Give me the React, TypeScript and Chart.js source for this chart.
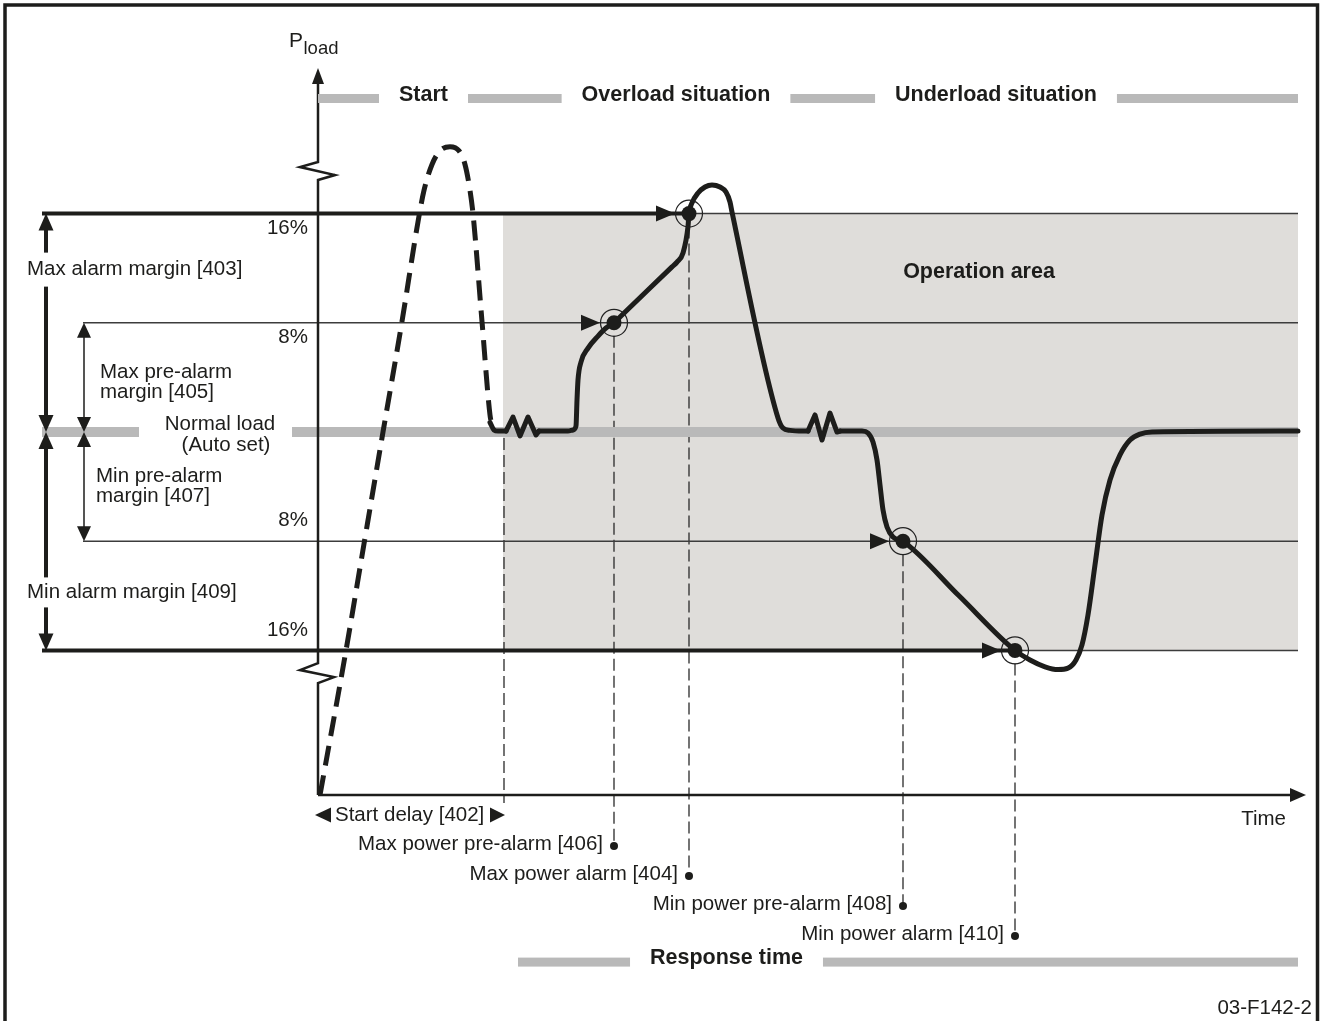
import { useEffect, useRef } from "react";
import { Chart, registerables } from "chart.js";

Chart.register(...registerables);

// ---------------- Values ----------------
// Time axis: arbitrary time units from start (0).  Load axis: % deviation from normal load (0).
const thresholdLevels = [16, 8, -8, -16];
const thresholdLabels = ["16%", "8%", "8%", "16%"];

// Start-up (dashed) curve
const startCurveT = [0.2, 2.8, 4.6, 6.5, 8.4, 10.0, 10.6, 11.4, 12.2, 13.2, 14.1, 14.7, 15.2, 15.5, 16.4, 17.2, 17.4];
const startCurveV = [-26.6, -16.0, -8.2, 0, 8.1, 15.4, 17.7, 19.6, 20.6, 20.9, 20.6, 19.6, 17.7, 16.0, 8.1, 1.25, 0.5];

// Load curve, split into smooth parts and ripple (zig-zag) parts
const settleT = [17.2, 17.6, 18.0, 18.8];
const settleV = [0.7, 0.15, 0.07, 0.07];
const ripple1T = [18.8, 19.5, 20.2, 21.0, 21.8, 22.1];
const ripple1V = [0.07, 1.1, -0.29, 1.1, -0.22, 0.07];
const overloadT = [22.1, 25.0, 25.5, 25.8, 25.9, 26.0, 26.3, 27.0, 28.0, 28.8, 29.6, 30.3, 33.2, 35.4, 35.9, 36.5, 37.0, 37.1, 37.4, 38.0, 38.7, 39.4, 40.2, 40.8, 41.2, 41.4, 46.0, 46.5, 47.2, 48.5, 49.0];
const overloadV = [0.07, 0.07, 0.15, 0.44, 2.34, 3.81, 5.13, 6.15, 7.03, 7.62, 8.0, 8.5, 10.55, 12.1, 12.45, 13.11, 15.05, 16.0, 16.78, 17.51, 17.95, 18.1, 17.95, 17.58, 16.85, 16.12, 1.03, 0.29, 0.12, 0.07, 0.07];
const ripple2T = [49.0, 49.7, 50.4, 51.2, 51.9, 52.2];
const ripple2V = [0.07, 1.25, -0.59, 1.39, 0, 0.07];
const underloadT = [52.2, 54.4, 55.0, 55.5, 55.9, 56.2, 56.5, 56.9, 57.5, 58.5, 64.1, 69.7, 71.2, 72.7, 74.0, 75.0, 75.8, 76.4, 77.0, 77.7, 78.4, 79.2, 80.2, 81.2, 82.2, 83.4, 98.0];
const underloadV = [0.07, 0.07, -0.07, -0.73, -2.05, -3.88, -5.71, -6.96, -7.69, -8.0, -12.0, -16.0, -16.7, -17.2, -17.4, -17.3, -16.7, -15.6, -13.4, -9.74, -6.08, -3.52, -1.68, -0.59, -0.15, 0, 0.07];

// Alarm events
const alarmT = [29.6, 37.1, 58.5, 69.7];
const alarmV = [8, 16, -8, -16];
const alarmLabels = ["Max power pre-alarm [406]", "Max power alarm [404]", "Min power pre-alarm [408]", "Min power alarm [410]"];

const startDelayEndT = 18.6;
const headerLabels = ["Start", "Overload situation", "Underload situation"];
const headerCenterT = [10.55, 35.8, 67.8];
const responseLabel = "Response time";
const responseCenterT = 40.85;
const responseStartT = 20.0;

// ---------------- Scale extents ----------------
const T_MIN = -31.8, T_MAX = 100.3;
const V_MIN = -43.15, V_MAX = 31.65;
const AXIS_V = -26.6;        // level of the time axis
const AXIS_TOP_V = 26.67;    // tip of the load axis arrow
const UPPER_BREAK_V = 19.12;
const LOWER_BREAK_V = -17.66;
const AXIS_END_T = 98.8;
const PLOT_END_T = 98.0;
const OUTER_MARGIN_T = -27.2;
const INNER_MARGIN_T = -23.4;
const LINE_START_OUTER_T = -27.6;
const LINE_START_INNER_T = -23.5;
const BAND_GAP_T = [-17.9, -2.6];

// ---------------- Styles ----------------
const INK = "#1d1d1b";
const SHADE = "#dfddda";
const BAND = "#b9b9b9";
const FAMILY = '"Liberation Sans", Arial, sans-serif';
const REG = `20.5px ${FAMILY}`;
const BOLD = `bold 21.5px ${FAMILY}`;

const pts = (ts: number[], vs: number[]) => ts.map((t, i) => ({ x: t, y: vs[i] }));

function tri(ctx: CanvasRenderingContext2D, tx: number, ty: number, dir: string, len: number, half: number) {
  ctx.beginPath();
  ctx.moveTo(tx, ty);
  if (dir === "up") { ctx.lineTo(tx - half, ty + len); ctx.lineTo(tx + half, ty + len); }
  else if (dir === "down") { ctx.lineTo(tx - half, ty - len); ctx.lineTo(tx + half, ty - len); }
  else if (dir === "left") { ctx.lineTo(tx + len, ty - half); ctx.lineTo(tx + len, ty + half); }
  else { ctx.lineTo(tx - len, ty - half); ctx.lineTo(tx - len, ty + half); }
  ctx.closePath();
  ctx.fill();
}
function seg(ctx: CanvasRenderingContext2D, x1: number, y1: number, x2: number, y2: number) {
  ctx.beginPath();
  ctx.moveTo(x1, y1);
  ctx.lineTo(x2, y2);
  ctx.stroke();
}
function label(ctx: CanvasRenderingContext2D, s: string, x: number, y: number, align: CanvasTextAlign = "left", font = REG) {
  ctx.font = font;
  ctx.textAlign = align;
  ctx.textBaseline = "middle";
  ctx.fillText(s, x, y);
}

const diagramPlugin = {
  id: "diagram",
  afterDatasetDraw(chart: any, args: any) {
    if (chart.data.datasets[args.index].label !== "Operation area") return;
    const ctx = chart.ctx as CanvasRenderingContext2D;
    const X = (t: number) => chart.scales.x.getPixelForValue(t);
    const Y = (v: number) => chart.scales.y.getPixelForValue(v);
    const oy = Y(AXIS_V);
    ctx.save();
    ctx.strokeStyle = "#2a2a2a";
    ctx.lineWidth = 1.3;
    ctx.setLineDash([12, 5]);
    seg(ctx, X(startDelayEndT), Y(0) + 6, X(startDelayEndT), oy + 8);
    alarmT.forEach((t, i) => seg(ctx, X(t), Y(alarmV[i]) + 13, X(t), oy + 51 + 30 * i));
    ctx.restore();
  },
  afterDatasetsDraw(chart: any) {
    const ctx = chart.ctx as CanvasRenderingContext2D;
    const X = (t: number) => chart.scales.x.getPixelForValue(t);
    const Y = (v: number) => chart.scales.y.getPixelForValue(v);
    const ox = X(0), oy = Y(AXIS_V);
    const y16 = Y(16), y8 = Y(8), y0 = Y(0), ym8 = Y(-8), ym16 = Y(-16);
    ctx.save();
    ctx.fillStyle = INK;
    ctx.strokeStyle = INK;
    ctx.lineCap = "butt";
    ctx.lineJoin = "miter";

    // frame
    ctx.lineWidth = 3.5;
    ctx.beginPath();
    ctx.moveTo(5, chart.height);
    ctx.lineTo(5, 5);
    ctx.lineTo(chart.width - 3.5, 5);
    ctx.lineTo(chart.width - 3.5, chart.height);
    ctx.stroke();

    // load axis with breaks
    const topTip = Y(AXIS_TOP_V);
    const lb = Y(LOWER_BREAK_V), ub = Y(UPPER_BREAK_V);
    ctx.lineWidth = 2.5;
    ctx.beginPath();
    ctx.moveTo(ox, oy);
    ctx.lineTo(ox, lb + 10); ctx.lineTo(ox + 16, lb + 4); ctx.lineTo(ox - 18, lb - 3); ctx.lineTo(ox, lb - 10);
    ctx.lineTo(ox, ub + 9); ctx.lineTo(ox + 17, ub + 4); ctx.lineTo(ox - 18, ub - 4); ctx.lineTo(ox, ub - 9);
    ctx.lineTo(ox, topTip + 12);
    ctx.stroke();
    tri(ctx, ox, topTip, "up", 16, 6);

    // time axis
    const xTip = X(AXIS_END_T);
    seg(ctx, ox, oy, xTip - 12, oy);
    tri(ctx, xTip, oy, "right", 16, 7);

    // axis titles
    ctx.font = `21px ${FAMILY}`;
    ctx.textAlign = "left";
    ctx.textBaseline = "middle";
    ctx.fillText("P", ox - 29, 41);
    const pw = ctx.measureText("P").width;
    ctx.font = `18.5px ${FAMILY}`;
    ctx.fillText("load", ox - 29 + pw + 0.5, 49);
    label(ctx, "Time", X(96.8), oy + 24, "right");

    // header
    const GAP = 20;
    ctx.font = BOLD;
    const spans = headerLabels.map((s, i) => {
      const w = ctx.measureText(s).width;
      const c = X(headerCenterT[i]);
      return [c - w / 2, c + w / 2];
    });
    const HY = 98.5;
    ctx.fillStyle = BAND;
    let prev = ox;
    spans.forEach(([l, r]) => { ctx.fillRect(prev, HY - 4.5, l - GAP - prev, 9); prev = r + GAP; });
    ctx.fillRect(prev, HY - 4.5, X(PLOT_END_T) - prev, 9);
    ctx.fillStyle = INK;
    headerLabels.forEach((s, i) => label(ctx, s, X(headerCenterT[i]), 95, "center", BOLD));

    label(ctx, "Operation area", X(66.1), y16 + 58, "center", BOLD);

    // alarm margin arrows
    const mx = X(OUTER_MARGIN_T);
    const maxTextY = y16 + 56, minTextY = ym16 - 58;
    ctx.lineWidth = 4;
    seg(ctx, mx, y16 + 15, mx, maxTextY - 17);
    seg(ctx, mx, maxTextY + 17, mx, y0 - 15);
    tri(ctx, mx, y16, "up", 17, 7.5);
    tri(ctx, mx, y0, "down", 17, 7.5);
    seg(ctx, mx, y0 + 15, mx, minTextY - 15);
    seg(ctx, mx, minTextY + 15, mx, ym16 - 15);
    tri(ctx, mx, y0, "up", 17, 7.5);
    tri(ctx, mx, ym16, "down", 17, 7.5);
    label(ctx, "Max alarm margin [403]", mx - 19, maxTextY);
    label(ctx, "Min alarm margin [409]", mx - 19, minTextY);

    // pre-alarm margin arrows
    const px = X(INNER_MARGIN_T);
    ctx.lineWidth = 1.5;
    seg(ctx, px, y8 + 13, px, y0 - 13);
    tri(ctx, px, y8, "up", 15, 7);
    tri(ctx, px, y0, "down", 15, 7);
    seg(ctx, px, y0 + 13, px, ym8 - 13);
    tri(ctx, px, y0, "up", 15, 7);
    tri(ctx, px, ym8, "down", 15, 7);
    const midUp = (y8 + y0) / 2, midDn = (y0 + ym8) / 2;
    label(ctx, "Max pre-alarm", px + 16, midUp - 5);
    label(ctx, "margin [405]", px + 16, midUp + 15);
    label(ctx, "Min pre-alarm", px + 12, midDn - 10.5);
    label(ctx, "margin [407]", px + 12, midDn + 9.5);

    // threshold % labels
    thresholdLevels.forEach((lv, i) => {
      label(ctx, thresholdLabels[i], ox - 10, Y(lv) + (lv > 0 ? 14.5 : -20.5), "right");
    });

    // normal load label
    label(ctx, "Normal load", X(-9.8), y0 - 7.5, "center");
    label(ctx, "(Auto set)", X(-9.2), y0 + 13, "center");

    // pointer arrows to alarm points
    alarmT.forEach((t, i) => tri(ctx, X(t) - 14, Y(alarmV[i]), "right", 19, 8));

    // start delay
    const sy = oy + 20;
    tri(ctx, ox - 3, sy, "left", 16, 7.5);
    label(ctx, "Start delay [402]", ox + 17, sy);
    tri(ctx, X(startDelayEndT) + 1, sy, "right", 15, 7.5);

    // alarm labels
    alarmT.forEach((t, i) => {
      const dy = oy + 51 + 30 * i;
      ctx.beginPath();
      ctx.arc(X(t), dy, 4, 0, Math.PI * 2);
      ctx.fill();
      label(ctx, alarmLabels[i], X(t) - 11, dy - 2, "right");
    });

    // response time
    const ry = oy + 167;
    ctx.font = BOLD;
    const rw = ctx.measureText(responseLabel).width;
    const rc = X(responseCenterT);
    ctx.fillStyle = BAND;
    ctx.fillRect(X(responseStartT), ry - 4.5, rc - rw / 2 - GAP - X(responseStartT), 9);
    ctx.fillRect(rc + rw / 2 + GAP, ry - 4.5, X(PLOT_END_T) - (rc + rw / 2 + GAP), 9);
    ctx.fillStyle = INK;
    label(ctx, responseLabel, rc, ry - 4, "center", BOLD);

    // figure id
    label(ctx, "03-F142-2", chart.width - 9, 1008, "right");
    ctx.restore();
  },
};

const curve = {
  borderColor: INK,
  borderWidth: 5,
  pointRadius: 0,
  borderJoinStyle: "round" as const,
  borderCapStyle: "round" as const,
  fill: false,
};

export default function App() {
  const ref = useRef<HTMLCanvasElement>(null);
  useEffect(() => {
    const datasets: any[] = [
      { label: "Operation area", data: pts([startDelayEndT - 0.1, PLOT_END_T], [16, 16]), borderWidth: 0, backgroundColor: SHADE, fill: { value: -16 }, pointRadius: 0, order: 20 },
      {
        label: "Normal load",
        data: [
          { x: LINE_START_OUTER_T, y: 0 }, { x: BAND_GAP_T[0], y: 0 }, { x: BAND_GAP_T[0], y: null },
          { x: BAND_GAP_T[1], y: 0 }, { x: PLOT_END_T, y: 0 },
        ],
        borderColor: BAND, borderWidth: 10, borderCapStyle: "butt", pointRadius: 0, spanGaps: false, fill: false, order: 19,
      },
      { label: "max alarm", data: pts([LINE_START_OUTER_T, alarmT[1]], [16, 16]), borderColor: INK, borderWidth: 4, pointRadius: 0, fill: false, order: 18 },
      { label: "max alarm cont", data: pts([alarmT[1], PLOT_END_T], [16, 16]), borderColor: "#3c3c3c", borderWidth: 1.5, pointRadius: 0, fill: false, order: 18 },
      { label: "max pre-alarm", data: pts([LINE_START_INNER_T, PLOT_END_T], [8, 8]), borderColor: "#3c3c3c", borderWidth: 1.5, pointRadius: 0, fill: false, order: 18 },
      { label: "min pre-alarm", data: pts([LINE_START_INNER_T, PLOT_END_T], [-8, -8]), borderColor: "#3c3c3c", borderWidth: 1.5, pointRadius: 0, fill: false, order: 18 },
      { label: "min alarm", data: pts([LINE_START_OUTER_T, alarmT[3]], [-16, -16]), borderColor: INK, borderWidth: 4, pointRadius: 0, fill: false, order: 18 },
      { label: "min alarm cont", data: pts([alarmT[3], PLOT_END_T], [-16, -16]), borderColor: "#3c3c3c", borderWidth: 1.5, pointRadius: 0, fill: false, order: 18 },
      { label: "start", data: pts(startCurveT, startCurveV), ...curve, borderCapStyle: "butt", borderDash: [20, 10], cubicInterpolationMode: "monotone", order: 15 },
      { label: "settle", data: pts(settleT, settleV), ...curve, cubicInterpolationMode: "monotone", order: 14 },
      { label: "ripple1", data: pts(ripple1T, ripple1V), ...curve, tension: 0, order: 14 },
      { label: "overload", data: pts(overloadT, overloadV), ...curve, cubicInterpolationMode: "monotone", order: 14 },
      { label: "ripple2", data: pts(ripple2T, ripple2V), ...curve, tension: 0, order: 14 },
      { label: "underload", data: pts(underloadT, underloadV), ...curve, cubicInterpolationMode: "monotone", order: 14 },
      { label: "rings", data: pts(alarmT, alarmV), showLine: false, pointRadius: 13.5, pointBackgroundColor: "rgba(0,0,0,0)", pointBorderColor: "#222", pointBorderWidth: 1.2, order: 12 },
      { label: "dots", data: pts(alarmT, alarmV), showLine: false, pointRadius: 7.5, pointBackgroundColor: INK, pointBorderWidth: 0, order: 11 },
    ];
    const chart = new Chart(ref.current as HTMLCanvasElement, {
      type: "line",
      data: { datasets },
      options: {
        animation: false,
        responsive: false,
        devicePixelRatio: 1,
        events: [],
        layout: { padding: 0, autoPadding: false },
        elements: { point: { radius: 0 }, line: { tension: 0 } },
        scales: {
          x: { type: "linear", min: T_MIN, max: T_MAX, display: false },
          y: { type: "linear", min: V_MIN, max: V_MAX, display: false },
        },
        plugins: { legend: { display: false }, tooltip: { enabled: false }, title: { display: false } },
      },
      plugins: [diagramPlugin],
    } as any);
    return () => chart.destroy();
  }, []);
  return (
    <div style={{ position: "absolute", left: 0, top: 0, width: 1321, height: 1021, background: "#fff" }}>
      <canvas ref={ref} width={1321} height={1021} style={{ display: "block", width: 1321, height: 1021 }} />
    </div>
  );
}
